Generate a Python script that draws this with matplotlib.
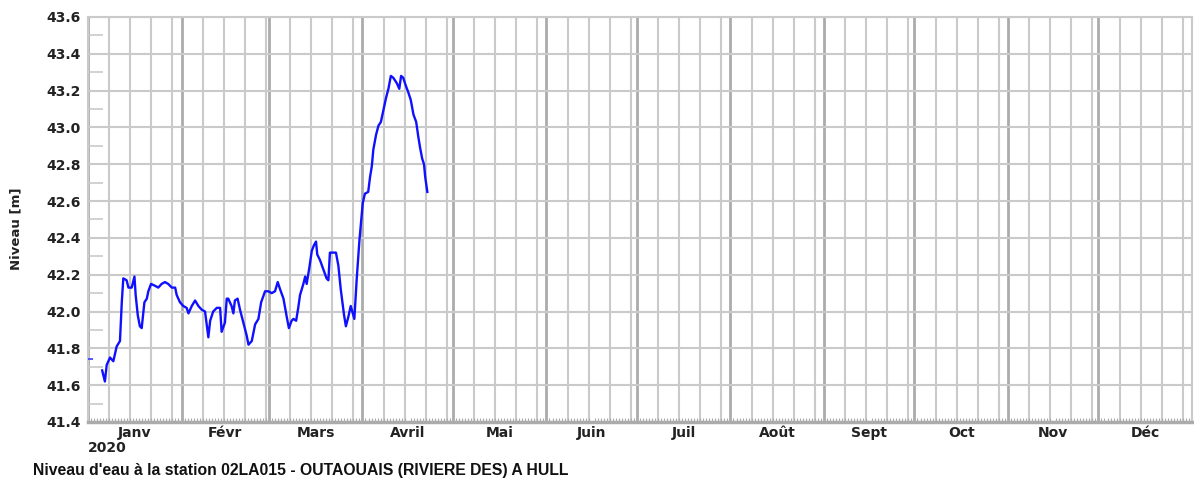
import calendar
import matplotlib
matplotlib.use("Agg")
import matplotlib.pyplot as plt
from matplotlib.ticker import MultipleLocator, FormatStrFormatter

# Niveau d'eau, station 02LA015 (jours depuis le 1er janvier 2020)
jours = [4.7, 5.6, 6.2, 7.3, 8.4, 9.5, 10.6, 11.2, 11.7, 12.8, 13.4, 14.5,
         15.4, 15.8, 16.5, 17.2, 17.8, 18.7, 19.5, 20.0, 20.9, 22.2, 23.3,
         24.4, 25.5, 26.6, 27.8, 28.9, 29.4, 30.5, 31.6, 32.7, 33.3, 34.4,
         35.5, 36.6, 37.7, 38.8, 39.9, 40.5, 41.5, 42.7, 43.8, 44.3, 45.4,
         46.0, 46.5, 47.6, 48.2, 48.7, 49.6, 50.4, 51.5, 52.6, 53.2, 54.3,
         55.4, 56.5, 57.4, 58.7, 59.8, 60.9, 62.0, 62.9, 63.7, 64.8, 65.9,
         66.6, 67.5, 68.1, 69.0, 69.7, 70.3, 71.4, 72.0, 72.5, 73.4, 74.2,
         74.9, 75.6, 76.0, 76.9, 78.0, 79.1, 79.7, 80.2, 81.3, 82.2, 83.0,
         83.8, 84.5, 84.9, 85.5, 86.3, 87.1, 87.8, 88.3, 89.1, 90.0, 91.1,
         91.8, 92.9, 93.5, 94.1, 94.6, 95.5, 96.3, 97.1, 97.9, 98.8, 99.6,
         100.4, 101.2, 102.4, 103.2, 103.8, 104.5, 105.3, 106.2, 107.0,
         107.9, 108.8, 109.5, 110.1, 110.8, 111.4, 111.8, 112.5]
niveaux = [41.68, 41.62, 41.71, 41.75, 41.73, 41.81, 41.84, 42.05, 42.18,
           42.17, 42.13, 42.13, 42.19, 42.09, 41.98, 41.92, 41.91, 42.05,
           42.07, 42.11, 42.15, 42.14, 42.13, 42.15, 42.16, 42.15, 42.13,
           42.13, 42.09, 42.05, 42.03, 42.02, 41.99, 42.03, 42.06, 42.03,
           42.01, 42.00, 41.86, 41.95, 42.00, 42.02, 42.02, 41.89, 41.94,
           42.07, 42.07, 42.03, 41.99, 42.06, 42.07, 42.01, 41.94, 41.87,
           41.82, 41.84, 41.93, 41.96, 42.05, 42.11, 42.11, 42.10, 42.11,
           42.16, 42.12, 42.07, 41.97, 41.91, 41.95, 41.96, 41.95, 42.02,
           42.09, 42.15, 42.19, 42.15, 42.24, 42.33, 42.36, 42.38, 42.31,
           42.28, 42.23, 42.18, 42.17, 42.32, 42.32, 42.32, 42.25, 42.12,
           42.03, 41.98, 41.92, 41.97, 42.03, 41.99, 41.96, 42.18, 42.39,
           42.59, 42.64, 42.65, 42.73, 42.79, 42.88, 42.96, 43.01, 43.03,
           43.09, 43.16, 43.21, 43.28, 43.27, 43.24, 43.21, 43.28, 43.27,
           43.23, 43.19, 43.15, 43.07, 43.03, 42.95, 42.89, 42.83, 42.80,
           42.73, 42.65]

# derniere valeur de 2019, affichee au bord gauche
jour_precedent = 0.8
niveau_precedent = 41.74

mois = ['Janv', 'Févr', 'Mars', 'Avril', 'Mai', 'Juin', 'Juil', 'Août',
        'Sept', 'Oct', 'Nov', 'Déc']
annee = 2020
titre = "Niveau d'eau à la station 02LA015 - OUTAOUAIS (RIVIERE DES) A HULL"

GRIS = '#cacaca'
GRIS_FONCE = '#ababab'
BOLD = dict(family=['DejaVu Sans'], fontweight='bold', color='#222222')

fig = plt.figure(figsize=(11.94, 4.87), dpi=100)
ax = fig.add_axes([0.0737, 0.1335, 0.9246, 0.8316])

# grille verticale : 1, 8, 15, 22, 29 de chaque mois
debut_mois = []
doy = 0
for m in range(1, 13):
    nb = calendar.monthrange(annee, m)[1]
    debut_mois.append(doy)
    for d in (1, 8, 15, 22, 29):
        if d <= nb:
            if d == 1:
                ax.axvline(doy, color=GRIS_FONCE, lw=2.0, zorder=1)
            else:
                ax.axvline(doy + d - 1, color=GRIS, lw=1.5, zorder=1)
    doy += nb
total = doy

for v in [41.4 + 0.2 * i for i in range(12)]:
    ax.axhline(v, color=GRIS, lw=1.5, zorder=1)

ax.plot(jours, niveaux, color='#1010ff', lw=1.7, zorder=3)
ax.plot([jour_precedent], [niveau_precedent], marker='_', color='#3a3aff',
        markersize=4, mew=1.2, zorder=3)

ax.set_xlim(0, total)
ax.set_ylim(41.4, 43.6)

# axe Y
ax.yaxis.set_major_locator(MultipleLocator(0.2))
ax.yaxis.set_major_formatter(FormatStrFormatter('%.1f'))
ax.yaxis.set_minor_locator(MultipleLocator(0.1))
ax.tick_params(axis='y', which='major', length=0, pad=5, labelsize=10)
ax.tick_params(axis='y', which='minor', direction='in', length=11,
               width=1.2, color=GRIS)
for lab in ax.get_yticklabels():
    lab.set_fontweight('bold')
    lab.set_color('#222222')

# axe X : mois au milieu, ticks journaliers
milieux = [debut_mois[i] + calendar.monthrange(annee, i + 1)[1] / 2
           for i in range(12)]
ax.set_xticks(milieux)
ax.set_xticklabels(mois)
ax.set_xticks(range(total), minor=True)
ax.tick_params(axis='x', which='major', length=0, pad=3, labelsize=10)
ax.tick_params(axis='x', which='minor', direction='in', length=3,
               width=0.8, color=GRIS_FONCE)
for lab in ax.get_xticklabels():
    lab.set_fontweight('bold')
    lab.set_color('#222222')

for side in ['top', 'right', 'left']:
    ax.spines[side].set_color(GRIS)
    ax.spines[side].set_linewidth(1.5)
ax.spines['bottom'].set_color(GRIS_FONCE)
ax.spines['bottom'].set_linewidth(2.5)

fig.text(0.0737, 0.080, str(annee), fontsize=10, va='center', ha='left', **BOLD)
fig.text(0.013, 0.53, 'Niveau [m]', fontsize=9.5, rotation=90, va='center',
         ha='center', **BOLD)
fig.text(0.028, 0.033, titre, fontsize=11.3, va='center', ha='left',
         family=['Liberation Sans Narrow', 'Liberation Sans', 'DejaVu Sans'],
         fontweight='bold', color='#111111')

fig.savefig('out.png', dpi=100, facecolor='white')
